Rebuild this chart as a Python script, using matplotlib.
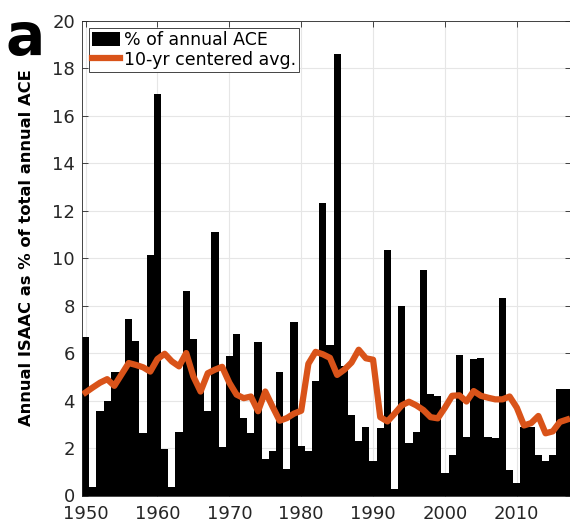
import matplotlib
matplotlib.use("Agg")
import matplotlib.pyplot as plt
import numpy as np

years = list(range(1950, 2018))
pct_ace = [6.66, 0.37, 3.54, 3.96, 5.22, 5.22, 7.43, 6.49, 2.62, 10.15,
           16.90, 1.95, 0.37, 2.67, 8.63, 6.59, 4.41, 3.57, 11.09, 2.03,
           5.86, 6.80, 3.28, 2.62, 6.46, 1.55, 1.89, 5.20, 1.10, 7.31,
           2.09, 1.89, 4.83, 12.34, 6.35, 18.59, 5.45, 3.40, 2.30, 2.88,
           1.47, 2.83, 10.33, 0.26, 8.00, 2.20, 2.69, 9.49, 4.28, 4.20,
           0.96, 1.71, 5.93, 2.45, 5.76, 5.79, 2.45, 2.41, 8.32, 1.08,
           0.54, 2.90, 2.88, 1.71, 1.47, 1.71, 4.49, 4.49]
avg10 = [4.34, 4.55, 4.75, 4.90, 4.62, 5.10, 5.58, 5.50, 5.40, 5.22,
         5.75, 5.97, 5.65, 5.44, 6.00, 5.01, 4.38, 5.15, 5.30, 5.42,
         4.75, 4.25, 4.10, 4.17, 3.55, 4.38, 3.75, 3.15, 3.26, 3.45,
         3.57, 5.55, 6.05, 5.95, 5.80, 5.08, 5.30, 5.60, 6.14, 5.78,
         5.72, 3.30, 3.12, 3.45, 3.80, 3.95, 3.80, 3.60, 3.30, 3.25,
         3.70, 4.20, 4.22, 3.96, 4.40, 4.20, 4.12, 4.05, 4.05, 4.17,
         3.70, 2.95, 3.05, 3.35, 2.62, 2.70, 3.10, 3.20]
xticks = [1950, 1960, 1970, 1980, 1990, 2000, 2010]
yticks = list(range(0, 21, 2))
ylabel = "Annual ISAAC as % of total annual ACE"
legend_labels = ["% of annual ACE", "10-yr centered avg."]

fig = plt.figure(figsize=(5.70, 5.22), dpi=100)
ax = fig.add_axes([82/570, (522-495.5)/522, (570.7-82)/570, (495.5-20.7)/522])

axcol = "#262626"
bars = ax.bar(years, pct_ace, width=1.0, color="black", edgecolor="none",
              label=legend_labels[0], zorder=2)
line, = ax.plot(years, avg10, color="#D95319", lw=4.5, solid_joinstyle="round",
                label=legend_labels[1], zorder=3)

ax.set_xlim(1949.5, 2017.5)
ax.set_ylim(0, 20)
ax.set_xticks(xticks)
ax.set_yticks(yticks)
ax.grid(True, color="#e6e6e6", lw=0.8)
ax.set_axisbelow(True)
ax.tick_params(direction="in", length=4, width=0.6, colors=axcol,
               labelsize=13, top=True, right=True)
ax.tick_params(axis="y", pad=5)
ax.tick_params(axis="x", pad=7)
for s in ax.spines.values():
    s.set_color(axcol)
    s.set_linewidth(0.6)

fig.text(27/570, 1 - 248/522, ylabel, rotation=90, ha="center", va="center",
         fontsize=11.8, fontweight="bold", color="black")
fig.text(5/570, 1 - 38/522, "a", ha="left", va="center", fontsize=42,
         fontweight="bold", color="black")

leg = ax.legend([bars, line], legend_labels, loc="upper left",
                bbox_to_anchor=(0.0, 1.0), fontsize=12.5,
                frameon=True, fancybox=False, borderpad=0.2, labelspacing=0.1,
                handlelength=1.6, handleheight=0.9, handletextpad=0.2,
                borderaxespad=0.4)
leg.get_frame().set_edgecolor(axcol)
leg.get_frame().set_linewidth(0.6)
leg.get_frame().set_alpha(1)

fig.savefig("out.png", dpi=100)
